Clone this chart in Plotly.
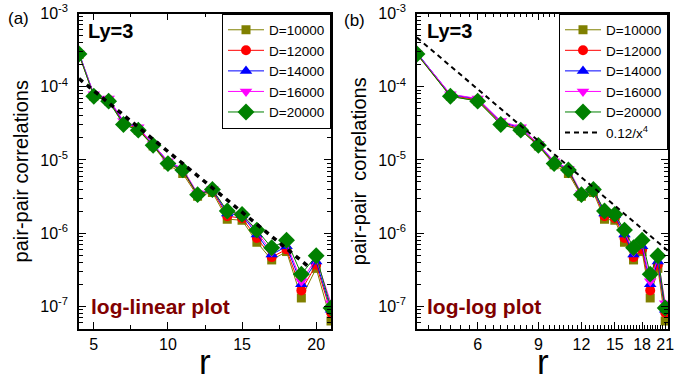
import math
import plotly.graph_objects as go

# ---------------- data ----------------
r = list(range(4, 22))

series_names = ["D=10000", "D=12000", "D=14000", "D=16000", "D=20000"]

d10000 = [2.75e-4, 7.4e-5, 6.4e-5, 3.1e-5, 2.55e-5, 1.55e-5, 8.6e-6, 6.5e-6, 3.2e-6, 3.6e-6,
          1.55e-6, 1.5e-6, 7.5e-7, 4.3e-7, 5.6e-7, 1.3e-7, 3.3e-7, 6.3e-8]
d12000 = [2.8e-4, 7.6e-5, 6.6e-5, 3.2e-5, 2.65e-5, 1.6e-5, 9.0e-6, 7.0e-6, 3.3e-6, 3.8e-6,
          1.7e-6, 1.6e-6, 8.6e-7, 4.7e-7, 6.0e-7, 1.65e-7, 3.7e-7, 8.2e-8]
d14000 = [2.9e-4, 7.8e-5, 6.8e-5, 3.3e-5, 2.75e-5, 1.65e-5, 9.4e-6, 7.4e-6, 3.4e-6, 3.9e-6,
          1.85e-6, 1.75e-6, 9.6e-7, 5.1e-7, 6.6e-7, 2.0e-7, 4.1e-7, 9.0e-8]
d16000 = [2.85e-4, 7.9e-5, 6.9e-5, 3.4e-5, 2.8e-5, 1.65e-5, 9.6e-6, 7.6e-6, 3.5e-6, 4.0e-6,
          1.95e-6, 1.8e-6, 1.03e-6, 5.6e-7, 7.2e-7, 2.2e-7, 4.5e-7, 1.1e-7]
d20000 = [2.8e-4, 7.4e-5, 6.35e-5, 3.05e-5, 2.55e-5, 1.58e-5, 8.9e-6, 7.3e-6, 3.35e-6, 3.95e-6,
          2.0e-6, 1.8e-6, 1.1e-6, 6.3e-7, 8.0e-7, 2.75e-7, 4.9e-7, 9.5e-8]
series_values = [d10000, d12000, d14000, d16000, d20000]

# exponential guide line on the log-linear panel (two end points)
exp_fit_r = [4, 19.4]
exp_fit_y = [1.29e-4, 3.6e-7]

# power-law guide 0.12/x^4 on the log-log panel
power_label = "0.12/x<sup>4</sup>"
power_r = [4, 6, 9, 12, 15, 18, 21, 21.4]
power_y = [0.12 / x ** 4 for x in power_r]

y_tick_vals = [1e-7, 1e-6, 1e-5, 1e-4, 1e-3]
y_tick_text = ["10<sup>-7</sup>", "10<sup>-6</sup>", "10<sup>-5</sup>", "10<sup>-4</sup>", "10<sup>-3</sup>"]
x_lin_ticks = [5, 10, 15, 20]
x_log_ticks = [6, 9, 12, 15, 18, 21]

# ---------------- style ----------------
colors = ["#808000", "#ff0000", "#0000ff", "#ff00ff", "#008000"]
symbols = ["square", "circle", "triangle-up", "triangle-down", "diamond"]
sizes = [9, 10, 11, 11, 13]
FONT = "Liberation Sans, Arial, sans-serif"
W, H = 676, 375

def px_x(v):
    return v / W

def px_y(v):
    return 1 - v / H

left_dom = [px_x(79), px_x(331)]
right_dom = [px_x(417), px_x(668)]
y_dom = [px_y(329), px_y(13.5)]

fig = go.Figure()

for i, (name, vals) in enumerate(zip(series_names, series_values)):
    for panel, (xa, ya, leg) in enumerate([("x", "y", "legend"), ("x2", "y2", "legend2")]):
        fig.add_trace(go.Scatter(
            x=r, y=vals, name=name, xaxis=xa, yaxis=ya, legend=leg,
            mode="lines+markers",
            line=dict(color=colors[i], width=1),
            marker=dict(symbol=symbols[i], size=sizes[i], color=colors[i],
                        line=dict(width=0)),
            showlegend=True,
        ))

fig.add_trace(go.Scatter(x=exp_fit_r, y=exp_fit_y, mode="lines", xaxis="x", yaxis="y",
                         line=dict(color="black", width=3.5, dash="5px,5px"),
                         showlegend=False))
fig.add_trace(go.Scatter(x=power_r, y=power_y, mode="lines", xaxis="x2", yaxis="y2",
                         name=power_label, legend="legend2",
                         line=dict(color="black", width=2, dash="5px,4px")))

minor_y = [m * 10 ** e for e in range(-8, -2) for m in range(2, 10)]
minor_x_log = [round(4 + k / 3, 4) for k in range(0, 55) if (4 + k / 3) <= 21.5]

axis_common = dict(showline=True, linecolor="black", linewidth=1.5, mirror="allticks",
                   ticks="inside", ticklen=7, tickwidth=1, tickcolor="black",
                   showgrid=False, zeroline=False, automargin=False,
                   tickfont=dict(family=FONT, size=16, color="black"))

legend_common = dict(xanchor="right", yanchor="top", bgcolor="white", bordercolor="black",
                     borderwidth=1, font=dict(family=FONT, size=13.5, color="black"),
                     tracegroupgap=0, itemwidth=36)

fig.update_layout(
    width=W, height=H,
    margin=dict(l=0, r=0, t=0, b=0, autoexpand=False),
    paper_bgcolor="white", plot_bgcolor="white",
    font=dict(family=FONT, color="black"),
    xaxis=dict(domain=left_dom, anchor="y", range=[4, 21], tickvals=x_lin_ticks,
               ticklabelstandoff=0,
               minor=dict(tickvals=[7.5, 12.5, 17.5], ticks="inside", ticklen=4, tickcolor="black"),
               **axis_common),
    yaxis=dict(domain=y_dom, anchor="x", type="log", range=[-7.31, -3.0],
               tickvals=y_tick_vals, ticktext=y_tick_text, ticklabelstandoff=6,
               minor=dict(tickvals=minor_y, ticks="inside", ticklen=4, tickcolor="black"),
               title=dict(text="pair-pair correlations", font=dict(family=FONT, size=20), standoff=6),
               **axis_common),
    xaxis2=dict(domain=right_dom, anchor="y2", type="log",
                range=[math.log10(4), math.log10(21.4)], tickvals=x_log_ticks,
                ticklabelstandoff=0,
                minor=dict(tickvals=minor_x_log, ticks="inside", ticklen=4, tickcolor="black"),
                **axis_common),
    yaxis2=dict(domain=y_dom, anchor="x2", type="log", range=[-7.31, -3.0],
                tickvals=y_tick_vals, ticktext=y_tick_text, ticklabelstandoff=6,
                minor=dict(tickvals=minor_y, ticks="inside", ticklen=4, tickcolor="black"),
                title=dict(text="pair-pair\u00a0\u00a0correlations", font=dict(family=FONT, size=20), standoff=6),
                **axis_common),
    legend=dict(x=left_dom[1], y=y_dom[1], **legend_common),
    legend2=dict(x=right_dom[1], y=y_dom[1], **legend_common),
)

annotations = [
    dict(text="(a)", x=px_x(6), y=px_y(18), xanchor="left", yanchor="middle",
         font=dict(size=17)),
    dict(text="(b)", x=px_x(342), y=px_y(20), xanchor="left", yanchor="middle",
         font=dict(size=17)),
    dict(text="<b>Ly=3</b>", x=px_x(86), y=px_y(31), xanchor="left", yanchor="middle",
         font=dict(size=20)),
    dict(text="<b>Ly=3</b>", x=px_x(425), y=px_y(31), xanchor="left", yanchor="middle",
         font=dict(size=20)),
    dict(text="<b>log-linear plot</b>", x=px_x(89), y=px_y(306), xanchor="left", yanchor="middle",
         font=dict(size=21, color="#800000")),
    dict(text="<b>log-log plot</b>", x=px_x(425), y=px_y(306), xanchor="left", yanchor="middle",
         font=dict(size=21, color="#800000")),
    # x-axis titles
    dict(text="r", x=sum(left_dom) / 2, y=px_y(361), xanchor="center", yanchor="middle",
         font=dict(size=35)),
    dict(text="r", x=sum(right_dom) / 2, y=px_y(361), xanchor="center", yanchor="middle",
         font=dict(size=35)),
]
for a in annotations:
    a.update(xref="paper", yref="paper", showarrow=False)
    a["font"].setdefault("family", FONT)
    a["font"].setdefault("color", "black")
fig.update_layout(annotations=annotations)

fig.write_html("out.html")
